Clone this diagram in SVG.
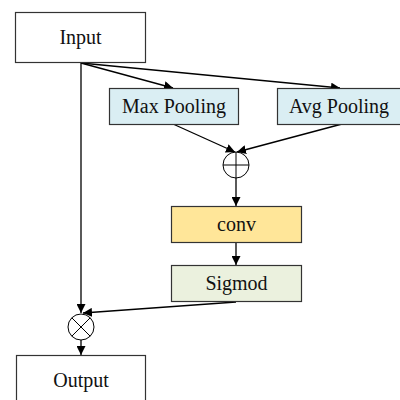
<svg xmlns="http://www.w3.org/2000/svg" width="400" height="400" viewBox="0 0 400 400">
<style>
.box{stroke:#333;stroke-width:1.2}
.t{font-family:"Liberation Serif","Times New Roman",serif;font-size:20px;fill:#111;text-anchor:middle;dominant-baseline:central}
.c{stroke:#000;stroke-width:1.3;fill:none}
</style>
<defs>
<marker id="a" viewBox="0 0 10 10" refX="10" refY="5" markerWidth="9" markerHeight="9" markerUnits="userSpaceOnUse" orient="auto">
<path d="M0,0 L10,5 L0,10 z" fill="#000"/>
</marker>
</defs>
<rect width="400" height="400" fill="#fff"/>
<g id="connectors">
<line class="c" x1="81" y1="63" x2="81" y2="313" marker-end="url(#a)"/>
<line class="c" x1="81" y1="63" x2="173" y2="88" marker-end="url(#a)"/>
<line class="c" x1="81" y1="63" x2="340" y2="88" marker-end="url(#a)"/>
<line class="c" x1="173" y1="124" x2="235" y2="152" marker-end="url(#a)"/>
<line class="c" x1="342" y1="124" x2="237" y2="152" marker-end="url(#a)"/>
<line class="c" x1="236" y1="178" x2="236" y2="206" marker-end="url(#a)"/>
<line class="c" x1="236" y1="242" x2="236" y2="265" marker-end="url(#a)"/>
<line class="c" x1="236" y1="302" x2="83" y2="313" marker-end="url(#a)"/>
<line class="c" x1="81" y1="340" x2="81" y2="355" marker-end="url(#a)"/>
</g>
<g id="input"><rect class="box" x="15.5" y="12.5" width="130" height="50" fill="#fff"/><text class="t" x="80.5" y="37">Input</text></g>
<g id="maxpool"><rect class="box" x="109.5" y="88.5" width="129" height="36" fill="#DAEEF3"/><text class="t" x="174" y="106">Max Pooling</text></g>
<g id="avgpool"><rect class="box" x="277.5" y="88.5" width="130" height="36" fill="#DAEEF3"/><text class="t" x="339" y="106">Avg Pooling</text></g>
<g id="add"><circle cx="236" cy="165" r="13" fill="#fff" stroke="#000" stroke-width="1"/><line x1="223" y1="165" x2="249" y2="165" stroke="#000"/><line x1="236" y1="152" x2="236" y2="178" stroke="#000"/></g>
<g id="conv"><rect class="box" x="171.5" y="206.5" width="130" height="36" fill="#FFE699"/><text class="t" x="236.5" y="224">conv</text></g>
<g id="sigmod"><rect class="box" x="171.5" y="265.5" width="130" height="36" fill="#EBF1DE"/><text class="t" x="236.5" y="283">Sigmod</text></g>
<g id="mul"><circle cx="81" cy="327" r="13" fill="#fff" stroke="#000" stroke-width="1"/><line x1="71.8" y1="317.8" x2="90.2" y2="336.2" stroke="#000"/><line x1="90.2" y1="317.8" x2="71.8" y2="336.2" stroke="#000"/></g>
<g id="output"><rect class="box" x="16.5" y="355.5" width="129" height="50" fill="#fff"/><text class="t" x="81" y="380">Output</text></g>
</svg>
